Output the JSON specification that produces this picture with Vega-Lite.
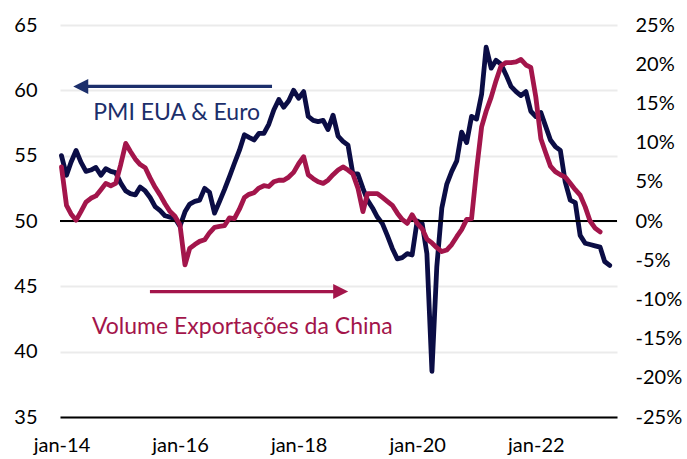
{
  "$schema": "https://vega.github.io/schema/vega-lite/v6.json",
  "width": 557,
  "height": 392,
  "autosize": {"type": "none"},
  "padding": {"left": 60, "top": 25, "right": 70, "bottom": 42},
  "background": "white",
  "config": {
    "view": {"stroke": null},
    "font": "Lato",
    "axis": {"labelFont": "Lato", "labelFontSize": 20, "labelColor": "#000000", "labelOverlap": false}
  },
  "datasets": {
    "pmi": [
      {"d":"2014-01-01","v":55.0},{"d":"2014-02-01","v":53.5},{"d":"2014-03-01","v":54.5},{"d":"2014-04-01","v":55.4},{"d":"2014-05-01","v":54.5},{"d":"2014-06-01","v":53.8},{"d":"2014-07-01","v":53.9},{"d":"2014-08-01","v":54.1},{"d":"2014-09-01","v":53.5},{"d":"2014-10-01","v":54.0},{"d":"2014-11-01","v":53.8},{"d":"2014-12-01","v":53.7},
      {"d":"2015-01-01","v":52.9},{"d":"2015-02-01","v":52.3},{"d":"2015-03-01","v":52.1},{"d":"2015-04-01","v":52.0},{"d":"2015-05-01","v":52.6},{"d":"2015-06-01","v":52.3},{"d":"2015-07-01","v":51.8},{"d":"2015-08-01","v":51.1},{"d":"2015-09-01","v":50.8},{"d":"2015-10-01","v":50.4},{"d":"2015-11-01","v":50.3},{"d":"2015-12-01","v":50.2},
      {"d":"2016-01-01","v":49.6},{"d":"2016-02-01","v":50.7},{"d":"2016-03-01","v":51.3},{"d":"2016-04-01","v":51.5},{"d":"2016-05-01","v":51.6},{"d":"2016-06-01","v":52.5},{"d":"2016-07-01","v":52.2},{"d":"2016-08-01","v":50.6},{"d":"2016-09-01","v":51.5},{"d":"2016-10-01","v":52.4},{"d":"2016-11-01","v":53.4},{"d":"2016-12-01","v":54.4},
      {"d":"2017-01-01","v":55.4},{"d":"2017-02-01","v":56.6},{"d":"2017-03-01","v":56.4},{"d":"2017-04-01","v":56.2},{"d":"2017-05-01","v":56.7},{"d":"2017-06-01","v":56.7},{"d":"2017-07-01","v":57.4},{"d":"2017-08-01","v":58.5},{"d":"2017-09-01","v":59.3},{"d":"2017-10-01","v":58.7},{"d":"2017-11-01","v":59.2},{"d":"2017-12-01","v":60.0},
      {"d":"2018-01-01","v":59.4},{"d":"2018-02-01","v":59.9},{"d":"2018-03-01","v":58.0},{"d":"2018-04-01","v":57.7},{"d":"2018-05-01","v":57.6},{"d":"2018-06-01","v":57.7},{"d":"2018-07-01","v":57.0},{"d":"2018-08-01","v":58.1},{"d":"2018-09-01","v":56.5},{"d":"2018-10-01","v":56.1},{"d":"2018-11-01","v":55.8},{"d":"2018-12-01","v":53.6},
      {"d":"2019-01-01","v":53.6},{"d":"2019-02-01","v":52.5},{"d":"2019-03-01","v":51.6},{"d":"2019-04-01","v":51.0},{"d":"2019-05-01","v":50.3},{"d":"2019-06-01","v":49.8},{"d":"2019-07-01","v":48.9},{"d":"2019-08-01","v":47.9},{"d":"2019-09-01","v":47.1},{"d":"2019-10-01","v":47.2},{"d":"2019-11-01","v":47.5},{"d":"2019-12-01","v":47.4},
      {"d":"2020-01-01","v":50.0},{"d":"2020-02-01","v":49.8},{"d":"2020-03-01","v":47.5},{"d":"2020-04-01","v":38.5},{"d":"2020-05-01","v":46.5},{"d":"2020-06-01","v":51.0},{"d":"2020-07-01","v":52.8},{"d":"2020-08-01","v":53.8},{"d":"2020-09-01","v":54.6},{"d":"2020-10-01","v":56.8},{"d":"2020-11-01","v":56.0},{"d":"2020-12-01","v":58.0},
      {"d":"2021-01-01","v":57.8},{"d":"2021-02-01","v":59.7},{"d":"2021-03-01","v":63.3},{"d":"2021-04-01","v":61.7},{"d":"2021-05-01","v":62.3},{"d":"2021-06-01","v":62.0},{"d":"2021-07-01","v":61.2},{"d":"2021-08-01","v":60.3},{"d":"2021-09-01","v":59.9},{"d":"2021-10-01","v":59.6},{"d":"2021-11-01","v":59.9},{"d":"2021-12-01","v":58.4},
      {"d":"2022-01-01","v":58.0},{"d":"2022-02-01","v":58.3},{"d":"2022-03-01","v":57.3},{"d":"2022-04-01","v":56.2},{"d":"2022-05-01","v":55.7},{"d":"2022-06-01","v":55.4},{"d":"2022-07-01","v":53.0},{"d":"2022-08-01","v":51.6},{"d":"2022-09-01","v":51.4},{"d":"2022-10-01","v":48.9},{"d":"2022-11-01","v":48.3},{"d":"2022-12-01","v":48.2},
      {"d":"2023-01-01","v":48.1},{"d":"2023-02-01","v":48.0},{"d":"2023-03-01","v":46.9},{"d":"2023-04-01","v":46.6}
    ],
    "exports": [
      {"d":"2014-01-01","v":6.9},{"d":"2014-02-01","v":2.0},{"d":"2014-03-01","v":0.9},{"d":"2014-04-01","v":0.1},{"d":"2014-05-01","v":1.2},{"d":"2014-06-01","v":2.4},{"d":"2014-07-01","v":2.9},{"d":"2014-08-01","v":3.2},{"d":"2014-09-01","v":4.0},{"d":"2014-10-01","v":4.8},{"d":"2014-11-01","v":4.5},{"d":"2014-12-01","v":4.8},
      {"d":"2015-01-01","v":7.2},{"d":"2015-02-01","v":9.9},{"d":"2015-03-01","v":8.9},{"d":"2015-04-01","v":7.9},{"d":"2015-05-01","v":7.2},{"d":"2015-06-01","v":6.8},{"d":"2015-07-01","v":5.5},{"d":"2015-08-01","v":4.3},{"d":"2015-09-01","v":3.3},{"d":"2015-10-01","v":2.2},{"d":"2015-11-01","v":1.2},{"d":"2015-12-01","v":0.6},
      {"d":"2016-01-01","v":-0.5},{"d":"2016-02-01","v":-5.6},{"d":"2016-03-01","v":-3.5},{"d":"2016-04-01","v":-3.0},{"d":"2016-05-01","v":-2.6},{"d":"2016-06-01","v":-2.4},{"d":"2016-07-01","v":-1.5},{"d":"2016-08-01","v":-0.8},{"d":"2016-09-01","v":-0.7},{"d":"2016-10-01","v":-0.6},{"d":"2016-11-01","v":0.4},{"d":"2016-12-01","v":0.3},
      {"d":"2017-01-01","v":1.5},{"d":"2017-02-01","v":3.0},{"d":"2017-03-01","v":3.4},{"d":"2017-04-01","v":3.6},{"d":"2017-05-01","v":4.2},{"d":"2017-06-01","v":4.5},{"d":"2017-07-01","v":4.4},{"d":"2017-08-01","v":5.0},{"d":"2017-09-01","v":5.2},{"d":"2017-10-01","v":5.2},{"d":"2017-11-01","v":5.6},{"d":"2017-12-01","v":6.2},
      {"d":"2018-01-01","v":7.3},{"d":"2018-02-01","v":8.2},{"d":"2018-03-01","v":5.9},{"d":"2018-04-01","v":5.4},{"d":"2018-05-01","v":5.0},{"d":"2018-06-01","v":4.8},{"d":"2018-07-01","v":5.2},{"d":"2018-08-01","v":5.9},{"d":"2018-09-01","v":6.5},{"d":"2018-10-01","v":6.9},{"d":"2018-11-01","v":6.5},{"d":"2018-12-01","v":6.0},
      {"d":"2019-01-01","v":4.2},{"d":"2019-02-01","v":1.2},{"d":"2019-03-01","v":3.5},{"d":"2019-04-01","v":3.5},{"d":"2019-05-01","v":3.5},{"d":"2019-06-01","v":3.0},{"d":"2019-07-01","v":2.5},{"d":"2019-08-01","v":2.0},{"d":"2019-09-01","v":1.0},{"d":"2019-10-01","v":0.2},{"d":"2019-11-01","v":-0.3},{"d":"2019-12-01","v":0.8},
      {"d":"2020-01-01","v":-0.3},{"d":"2020-02-01","v":-1.0},{"d":"2020-03-01","v":-2.3},{"d":"2020-04-01","v":-2.8},{"d":"2020-05-01","v":-3.4},{"d":"2020-06-01","v":-3.9},{"d":"2020-07-01","v":-3.7},{"d":"2020-08-01","v":-3.0},{"d":"2020-09-01","v":-2.0},{"d":"2020-10-01","v":-1.1},{"d":"2020-11-01","v":0.2},{"d":"2020-12-01","v":0.3},
      {"d":"2021-01-01","v":6.5},{"d":"2021-02-01","v":12.0},{"d":"2021-03-01","v":14.0},{"d":"2021-04-01","v":15.8},{"d":"2021-05-01","v":17.9},{"d":"2021-06-01","v":19.8},{"d":"2021-07-01","v":20.2},{"d":"2021-08-01","v":20.2},{"d":"2021-09-01","v":20.3},{"d":"2021-10-01","v":20.6},{"d":"2021-11-01","v":19.9},{"d":"2021-12-01","v":19.6},
      {"d":"2022-01-01","v":15.8},{"d":"2022-02-01","v":10.5},{"d":"2022-03-01","v":8.8},{"d":"2022-04-01","v":7.0},{"d":"2022-05-01","v":6.3},{"d":"2022-06-01","v":5.9},{"d":"2022-07-01","v":5.6},{"d":"2022-08-01","v":4.8},{"d":"2022-09-01","v":4.0},{"d":"2022-10-01","v":3.3},{"d":"2022-11-01","v":1.8},{"d":"2022-12-01","v":0.0},
      {"d":"2023-01-01","v":-0.9},{"d":"2023-02-01","v":-1.4}
    ]
  },
  "layer": [
    {
      "layer": [
        {
          "data": {"name": "pmi"},
          "mark": {"type": "line", "color": "#0b0d45", "strokeWidth": 4.8, "strokeJoin": "round", "strokeCap": "round"},
          "encoding": {
            "x": {
              "field": "d", "type": "temporal",
              "scale": {"domain": [{"year": 2013, "month": 12, "date": 23}, {"year": 2023, "month": 5, "date": 16}]},
              "axis": {
                "title": null, "orient": "bottom", "grid": false, "ticks": false, "tickSize": 0,
                "domain": true, "domainColor": "#000000", "domainWidth": 2,
                "values": [{"year": 2014, "month": 1, "date": 1}, {"year": 2016, "month": 1, "date": 1}, {"year": 2018, "month": 1, "date": 1}, {"year": 2020, "month": 1, "date": 1}, {"year": 2022, "month": 1, "date": 1}],
                "labelExpr": "'jan-' + timeFormat(datum.value, '%y')",
                "labelPadding": 18, "labelFlush": false, "labelOverlap": false
              }
            },
            "y": {
              "field": "v", "type": "quantitative",
              "scale": {"domain": [35, 65], "nice": false, "zero": false},
              "axis": {
                "title": null, "orient": "left", "values": [35, 40, 45, 50, 55, 60, 65],
                "grid": true, "gridColor": "#ebebeb", "gridWidth": 2,
                "domain": false, "ticks": false, "tickSize": 0, "labelPadding": 23, "labelOverlap": false
              }
            }
          }
        },
        {
          "data": {"values": [{"v": 50}]},
          "mark": {"type": "rule", "color": "#000000", "strokeWidth": 2},
          "encoding": {"y": {"field": "v", "type": "quantitative"}}
        },
        {
          "data": {"values": [{"x1": "2014-05-22", "x2": "2017-07-21", "v": 60.3, "c": "#1c2f6b"}, {"x1": "2015-06-30", "x2": "2018-08-27", "v": 44.6, "c": "#a3154b"}]},
          "mark": {"type": "rule", "strokeWidth": 3.3},
          "encoding": {
            "x": {"field": "x1", "type": "temporal"},
            "x2": {"field": "x2"},
            "y": {"field": "v", "type": "quantitative"},
            "color": {"field": "c", "type": "nominal", "scale": null}
          }
        },
        {
          "data": {"values": [{"d": "2014-04-30", "v": 60.3}]},
          "mark": {"type": "point", "shape": "M-1,0L1,-1L1,1Z", "filled": true, "opacity": 1, "color": "#1c2f6b", "size": 225, "strokeWidth": 0},
          "encoding": {
            "x": {"field": "d", "type": "temporal"},
            "y": {"field": "v", "type": "quantitative"}
          }
        },
        {
          "data": {"values": [{"d": "2018-09-17", "v": 44.6}]},
          "mark": {"type": "point", "shape": "M1,0L-1,-1L-1,1Z", "filled": true, "opacity": 1, "color": "#a3154b", "size": 225, "strokeWidth": 0},
          "encoding": {
            "x": {"field": "d", "type": "temporal"},
            "y": {"field": "v", "type": "quantitative"}
          }
        },
        {
          "data": {"values": [{"d": "2014-07-16", "v": 57.73, "t": "PMI EUA & Euro", "c": "#1c2f6b"}, {"d": "2014-07-08", "v": 41.36, "t": "Volume Exportações da China", "c": "#a3154b"}]},
          "mark": {"type": "text", "align": "left", "baseline": "alphabetic", "font": "Lato", "fontSize": 23},
          "encoding": {
            "x": {"field": "d", "type": "temporal"},
            "y": {"field": "v", "type": "quantitative"},
            "text": {"field": "t"},
            "color": {"field": "c", "type": "nominal", "scale": null}
          }
        }
      ]
    },
    {
      "data": {"name": "exports"},
      "mark": {"type": "line", "color": "#a3154b", "strokeWidth": 4.8, "strokeJoin": "round", "strokeCap": "round"},
      "encoding": {
        "x": {"field": "d", "type": "temporal"},
        "y": {
          "field": "v", "type": "quantitative",
          "scale": {"domain": [-25, 25], "nice": false, "zero": false},
          "axis": {
            "title": null, "orient": "right", "values": [-25, -20, -15, -10, -5, 0, 5, 10, 15, 20, 25],
            "labelExpr": "datum.value + '%'",
            "grid": false, "domain": false, "ticks": false, "tickSize": 0, "labelPadding": 18,
            "labelOverlap": false
          }
        }
      }
    }
  ],
  "resolve": {"scale": {"y": "independent"}}
}
